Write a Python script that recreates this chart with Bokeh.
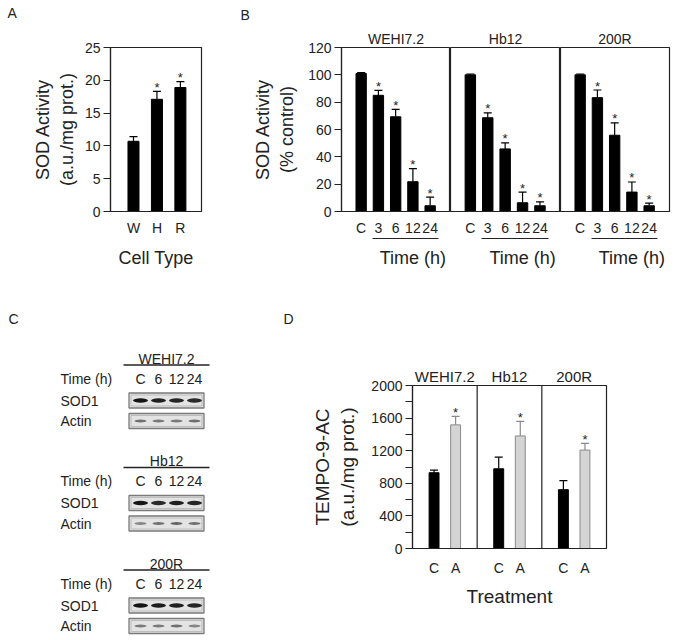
from bokeh.plotting import figure
from bokeh.models import Range1d, FixedTicker, LinearAxis, Whisker, TeeHead, ColumnDataSource, Span
from bokeh.layouts import column, row
from bokeh.embed import file_html
from bokeh.resources import INLINE
from bokeh.core.properties import value

FONT = "Liberation Sans"
INK = "#222222"

# ---------------- Panel A data ----------------
cell_types = ["W", "H", "R"]
sod_activity = [10.7, 17.1, 18.9]
sod_activity_err = [0.7, 1.2, 0.9]
sod_activity_sig = [False, True, True]

# ---------------- Panel B data ----------------
cell_lines = ["WEHI7.2", "Hb12", "200R"]
time_labels = ["C", "3", "6", "12", "24"]
sod_pct_wehi = [101, 85, 69.3, 21.8, 4.2]
sod_pct_wehi_err = [0.6, 3.7, 5.4, 9.5, 6.3]
sod_pct_hb12 = [100, 68.6, 45.8, 6.4, 4.2]
sod_pct_hb12_err = [0.6, 3.6, 4.4, 7.8, 2.9]
sod_pct_200r = [100, 83.3, 55.8, 14.2, 4.2]
sod_pct_200r_err = [0.6, 5.6, 9.1, 7.4, 2.0]
time_sig = [False, True, True, True, True]

# ---------------- Panel C data ----------------
blot_lanes = ["C", "6", "12", "24"]
blot_rows = ["SOD1", "Actin"]
sod1_band_wehi = [0.95, 0.9, 0.88, 0.86]
sod1_band_hb12 = [0.95, 0.86, 0.9, 0.88]
sod1_band_200r = [0.95, 0.92, 0.9, 0.88]
actin_band_wehi = [0.55, 0.5, 0.5, 0.55]
actin_band_hb12 = [0.45, 0.55, 0.6, 0.55]
actin_band_200r = [0.5, 0.5, 0.55, 0.45]

# ---------------- Panel D data ----------------
treat_labels = ["C", "A"]
tempo_wehi = [930, 1517]
tempo_wehi_err = [32, 104]
tempo_hb12 = [978, 1381]
tempo_hb12_err = [143, 178]
tempo_200r = [722, 1208]
tempo_200r_err = [111, 83]
treat_sig = [False, True]
treat_fill = ["black", "#d4d4d4"]
treat_line = ["black", "#8a8a8a"]


def no_align(p):
    if "frame_align" in p.properties():
        p.frame_align = False


def make_fig(width, height, xr, yr, mbl, mbr, mbt, mbb, show_y, title=None):
    p = figure(width=width, height=height, x_range=xr, y_range=yr,
               output_backend="svg", toolbar_location=None,
               y_axis_location="left" if show_y else None,
               min_border_left=mbl, min_border_right=mbr,
               min_border_top=mbt, min_border_bottom=mbb,
               background_fill_color="white", border_fill_color="white")
    no_align(p)
    p.grid.grid_line_color = None
    p.outline_line_color = INK
    p.outline_line_width = 1.2
    if title is not None:
        p.title.text = title
        p.title.align = "center"
        p.title.text_font = FONT
        p.title.text_font_size = "14px"
        p.title.text_font_style = "normal"
        p.title.text_color = INK
        p.title.standoff = 1
    return p


def blank_fig(width, height, xr, yr):
    p = figure(width=width, height=height, x_range=xr, y_range=yr,
               output_backend="svg", toolbar_location=None,
               x_axis_location=None, y_axis_location=None, min_border=0,
               background_fill_color="white", border_fill_color="white")
    no_align(p)
    p.grid.grid_line_color = None
    p.outline_line_color = None
    return p


def style_y(p, ticks, label, label_size, standoff, minor=None):
    ax = p.yaxis[0]
    ax.ticker = FixedTicker(ticks=ticks, minor_ticks=minor or [])
    ax.major_tick_out = 7
    ax.major_tick_in = 0
    ax.minor_tick_out = 7
    ax.minor_tick_in = 0
    ax.major_tick_line_color = INK
    ax.minor_tick_line_color = INK if minor else None
    ax.axis_line_color = INK
    ax.axis_line_width = 1.2
    ax.major_label_text_font = FONT
    ax.major_label_text_font_size = "14px"
    ax.major_label_text_color = INK
    ax.major_label_standoff = 3
    ax.axis_label = label
    ax.axis_label_text_font = FONT
    ax.axis_label_text_font_size = label_size
    ax.axis_label_text_font_style = "normal"
    ax.axis_label_text_color = INK
    ax.axis_label_standoff = standoff


def style_x(p, ticks, labels, standoff, axis_label=None, label_size="18px", label_standoff=9):
    ax = p.xaxis[0]
    ax.ticker = FixedTicker(ticks=ticks)
    ax.major_label_overrides = {t: s for t, s in zip(ticks, labels)}
    ax.major_tick_out = 0
    ax.major_tick_in = 0
    ax.major_tick_line_color = None
    ax.minor_tick_line_color = None
    ax.axis_line_color = INK
    ax.axis_line_width = 1.2
    ax.major_label_text_font = FONT
    ax.major_label_text_font_size = "14px"
    ax.major_label_text_color = INK
    ax.major_label_standoff = standoff
    if axis_label:
        ax.axis_label = axis_label
        ax.axis_label_text_font = FONT
        ax.axis_label_text_font_size = label_size
        ax.axis_label_text_font_style = "normal"
        ax.axis_label_text_color = INK
        ax.axis_label_standoff = label_standoff


def draw_bars(p, xs, vals, errs, sig, width, fills, lines, whisk_colors):
    src = ColumnDataSource(dict(
        x=xs, top=vals, up=[v + e for v, e in zip(vals, errs)],
        fill=fills, line=lines,
        star=["*" if s else "" for s in sig]))
    p.vbar(x="x", top="top", width=width, source=src,
           fill_color="fill", line_color="line", line_width=1)
    for c in sorted(set(whisk_colors)):
        sub = ColumnDataSource(dict(
            x=[x for x, w in zip(xs, whisk_colors) if w == c],
            top=[v for v, w in zip(vals, whisk_colors) if w == c],
            up=[v + e for v, e, w in zip(vals, errs, whisk_colors) if w == c]))
        p.add_layout(Whisker(source=sub, base="x", lower="top", upper="up",
                             line_color=c, line_width=1.2,
                             upper_head=TeeHead(size=8, line_color=c, line_width=1.2),
                             lower_head=None))
    p.text(x="x", y="up", text="star", source=src, text_align="center",
           text_baseline="alphabetic", y_offset=-4, text_color=INK,
           text_font=value(FONT), text_font_size="13px")


# ---------------- strip with panel letters A, B ----------------
strip = blank_fig(674, 24, Range1d(0, 674), Range1d(24, 0))
strip.text(x=[7, 240], y=[12, 14], text=["A", "B"], text_align="left",
           text_baseline="middle", text_color=INK, text_font=value(FONT),
           text_font_size="14px")

# ---------------- Panel A ----------------
pA = make_fig(209, 274, Range1d(-0.98, 2.9), Range1d(0, 25), 110, 8, 23, 87, True)
style_y(pA, [0, 5, 10, 15, 20, 25], "SOD Activity\n(a.u./mg prot.)", "18px", 5)
a_x = list(range(len(cell_types)))
style_x(pA, a_x, cell_types, 8, "Cell Type", "18px", 9)
draw_bars(pA, a_x, sod_activity, sod_activity_err, sod_activity_sig, 0.47,
          ["black"] * 3, ["black"] * 3, ["black"] * 3)

# ---------------- Panel B ----------------
yB = Range1d(0, 120)
b_vals = [sod_pct_wehi, sod_pct_hb12, sod_pct_200r]
b_errs = [sod_pct_wehi_err, sod_pct_hb12_err, sod_pct_200r_err]
b_dims = [(241, 132, 0, True), (110, 0, 0, False), (113, 0, 4, False)]
b_x = list(range(len(time_labels)))
b_figs = []
for name, vals, errs, (w, mbl, mbr, show_y) in zip(cell_lines, b_vals, b_errs, b_dims):
    p = make_fig(w, 274, Range1d(-1.14, 5.18), yB, mbl, mbr, 23, 87, show_y, title=name)
    if show_y:
        style_y(p, [0, 20, 40, 60, 80, 100, 120], "SOD Activity\n(% control)", "18px", 8)
    style_x(p, b_x, time_labels, 8)
    ax2 = LinearAxis(ticker=FixedTicker(ticks=[3]), bounds=(0.65, 4.5),
                     major_label_overrides={3: "Time (h)"},
                     major_tick_out=0, major_tick_in=0, major_tick_line_color=None,
                     minor_tick_line_color=None, axis_line_color=INK, axis_line_width=1.2,
                     major_label_text_font=FONT, major_label_text_font_size="18px",
                     major_label_text_color=INK, major_label_standoff=9)
    p.add_layout(ax2, "below")
    n = len(vals)
    draw_bars(p, b_x, vals, errs, time_sig, 0.6, ["black"] * n, ["black"] * n, ["black"] * n)
    b_figs.append(p)

# ---------------- Panel C (western blots) ----------------
pC = blank_fig(298, 342, Range1d(0, 298), Range1d(640, 298))
pC.text(x=[8, 283], y=[318, 318], text=["C", "D"], text_align="left",
        text_baseline="middle", text_color=INK, text_font=value(FONT),
        text_font_size="14px")

sod1_bands = [sod1_band_wehi, sod1_band_hb12, sod1_band_200r]
actin_bands = [actin_band_wehi, actin_band_hb12, actin_band_200r]
lane_x0, lane_dx = 140, 18
box_cx, box_w, box_h = 166, 75, 15
g_y0, g_dy = 358, 102.5
hdr_x, hdr_y, line_y, row_y = [], [], [], []
lab_x, lab_y, lab_t, lab_al = [], [], [], []
band_x, band_y, band_h, band_w, band_c = [], [], [], [], []
for g, name in enumerate(cell_lines):
    y0 = g_y0 + g * g_dy
    hdr_x.append(box_cx)
    hdr_y.append(y0)
    line_y.append(y0 + 6.5)
    lab_x.append(60); lab_y.append(y0 + 20); lab_t.append("Time (h)"); lab_al.append("left")
    for i, ln in enumerate(blot_lanes):
        lab_x.append(lane_x0 + lane_dx * i); lab_y.append(y0 + 20)
        lab_t.append(ln); lab_al.append("center")
    for r, (rname, bands) in enumerate(zip(blot_rows, [sod1_bands[g], actin_bands[g]])):
        cy = y0 + 42 + 20.5 * r
        row_y.append(cy)
        lab_x.append(60); lab_y.append(cy); lab_t.append(rname); lab_al.append("left")
        for i, inten in enumerate(bands):
            lvl = int(round(235 - 225 * inten))
            band_x.append(lane_x0 + lane_dx * i)
            band_y.append(cy)
            band_w.append(15 if r == 0 else 12)
            band_h.append(4.5 if r == 0 else 2.8)
            band_c.append("#%02x%02x%02x" % (lvl, lvl, lvl))

pC.text(x=hdr_x, y=hdr_y, text=cell_lines, text_align="center", text_baseline="middle",
        text_color=INK, text_font=value(FONT), text_font_size="14px")
pC.segment(x0=[box_cx - 43] * 3, x1=[box_cx + 43] * 3, y0=line_y, y1=line_y,
           line_color=INK, line_width=1.5)
pC.rect(x=[box_cx] * len(row_y), y=row_y, width=box_w, height=box_h,
        fill_color="#e3e3e3", line_color="#7a7a7a", line_width=1.3)
pC.rect(x=[box_cx] * len(row_y), y=row_y, width=box_w - 4, height=box_h - 4,
        fill_color=None, line_color="#bdbdbd", line_width=1)
pC.ellipse(x=band_x, y=band_y, width=band_w, height=band_h, fill_color=band_c,
           line_color=None)
pC.text(x=lab_x, y=lab_y, text=lab_t, text_align=lab_al,
        text_baseline="middle", text_color=INK, text_font=value(FONT),
        text_font_size="14px")

# ---------------- Panel D ----------------
panel_step = 3
d_vals = [tempo_wehi, tempo_hb12, tempo_200r]
d_errs = [tempo_wehi_err, tempo_hb12_err, tempo_200r_err]
d_x, d_v, d_e, d_s, d_f, d_l, d_lab = [], [], [], [], [], [], []
for k in range(len(cell_lines)):
    for i in range(len(treat_labels)):
        d_x.append(k * panel_step + i)
        d_v.append(d_vals[k][i])
        d_e.append(d_errs[k][i])
        d_s.append(treat_sig[i])
        d_f.append(treat_fill[i])
        d_l.append(treat_line[i])
        d_lab.append(treat_labels[i])

pD = make_fig(312, 342, Range1d(-1, panel_step * len(cell_lines) - 1), Range1d(0, 2000),
              114, 4, 87, 92, True)
style_y(pD, [0, 400, 800, 1200, 1600, 2000], "TEMPO-9-AC\n(a.u./mg prot.)", "19px", 10,
        minor=[200, 600, 1000, 1400, 1800])
style_x(pD, d_x, d_lab, 11, "Treatment", "19px", 7)
title_pos = [k * panel_step + 0.5 for k in range(len(cell_lines))]
top_ax = LinearAxis(ticker=FixedTicker(ticks=title_pos),
                    major_label_overrides={t: s for t, s in zip(title_pos, cell_lines)},
                    major_tick_out=0, major_tick_in=0, major_tick_line_color=None,
                    minor_tick_line_color=None, axis_line_color=None,
                    major_label_text_font=FONT, major_label_text_font_size="15px",
                    major_label_text_color=INK, major_label_standoff=1)
pD.add_layout(top_ax, "above")
for k in range(1, len(cell_lines)):
    pD.add_layout(Span(location=k * panel_step - 1, dimension="height",
                       line_color=INK, line_width=1.2))
draw_bars(pD, d_x, d_v, d_e, d_s, 0.46, d_f, d_l, d_l)

layout = column(strip, row(pA, *b_figs), row(pC, pD))
open("out.html", "w").write(file_html(layout, INLINE))
